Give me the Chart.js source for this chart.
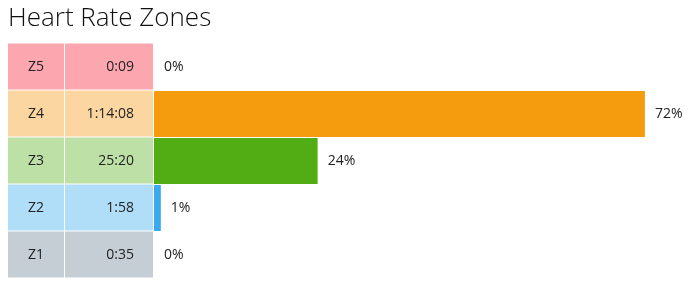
<!DOCTYPE html>
<html>
<head>
<meta charset="utf-8">
<script src="https://cdn.jsdelivr.net/npm/chart.js@4/dist/chart.umd.min.js"></script>
<style>
  html, body { margin: 0; padding: 0; background: #fff; }
  #wrap { width: 696px; height: 285px; }
</style>
</head>
<body>
<div id="wrap"><canvas id="hrChart"></canvas></div>
<script>
var zones = ['Z5', 'Z4', 'Z3', 'Z2', 'Z1'];
var zoneTimes = ['0:09', '1:14:08', '25:20', '1:58', '0:35'];
var zonePct = [0, 72, 24, 1, 0];
var cellColors = ['#fca6af', '#fcd6a0', '#bde0a6', '#b0ddf7', '#c5cdd5'];
var barColors = ['#f0454f', '#f59b0e', '#52ad14', '#3ba9ee', '#8a9aa8'];

var textColor = '#222';
var cellFont = '14px "Open Sans"';

// draws the zone / time cells in the space the y axis takes
var zoneCells = {
  id: 'zoneCells',
  beforeDatasetsDraw: function(chart) {
    var ctx = chart.ctx;
    var y = chart.scales.y;
    var left = chart.chartArea.left;
    var step = Math.abs(y.getPixelForValue(1) - y.getPixelForValue(0));
    ctx.save();
    ctx.font = cellFont;
    ctx.textBaseline = 'middle';
    zones.forEach(function(z, i) {
      var cy = y.getPixelForValue(i);
      var top = cy - step / 2;
      var h = step - 1;
      ctx.fillStyle = cellColors[i];
      ctx.fillRect(y.left, top, 56, h);
      ctx.fillRect(y.left + 57, top, left - 1 - (y.left + 57), h);
      ctx.fillStyle = textColor;
      ctx.textAlign = 'center';
      ctx.fillText(z, y.left + 28, cy);
      ctx.textAlign = 'right';
      ctx.fillText(zoneTimes[i], left - 20, cy);
    });
    ctx.restore();
  },
  afterDatasetsDraw: function(chart) {
    var ctx = chart.ctx;
    var meta = chart.getDatasetMeta(0);
    ctx.save();
    ctx.font = cellFont;
    ctx.textBaseline = 'middle';
    ctx.textAlign = 'left';
    ctx.fillStyle = textColor;
    meta.data.forEach(function(bar, i) {
      ctx.fillText(zonePct[i] + '%', bar.x + 10, bar.y);
    });
    ctx.restore();
  }
};

var chart = new Chart(document.getElementById('hrChart'), {
  type: 'bar',
  data: {
    labels: zones,
    datasets: [{
      data: zonePct,
      backgroundColor: barColors,
      borderWidth: 0,
      categoryPercentage: 1,
      barPercentage: 46 / 47
    }]
  },
  options: {
    indexAxis: 'y',
    responsive: true,
    maintainAspectRatio: false,
    animation: false,
    layout: { padding: { top: 3, left: 8, right: 2, bottom: 6.5 } },
    plugins: {
      legend: { display: false },
      tooltip: { enabled: false },
      title: {
        display: true,
        text: 'Heart Rate Zones',
        align: 'start',
        color: '#111',
        font: { family: 'Open Sans', size: 26, weight: 300 },
        padding: { top: 0, bottom: 9.3 }
      }
    },
    scales: {
      x: {
        display: false,
        min: 0,
        max: Math.max.apply(null, zonePct) * 1.1
      },
      y: {
        ticks: { display: false },
        grid: { display: false },
        border: { display: false },
        afterFit: function(s) { s.width = 146; }
      }
    }
  },
  plugins: [zoneCells]
});
</script>
</body>
</html>
